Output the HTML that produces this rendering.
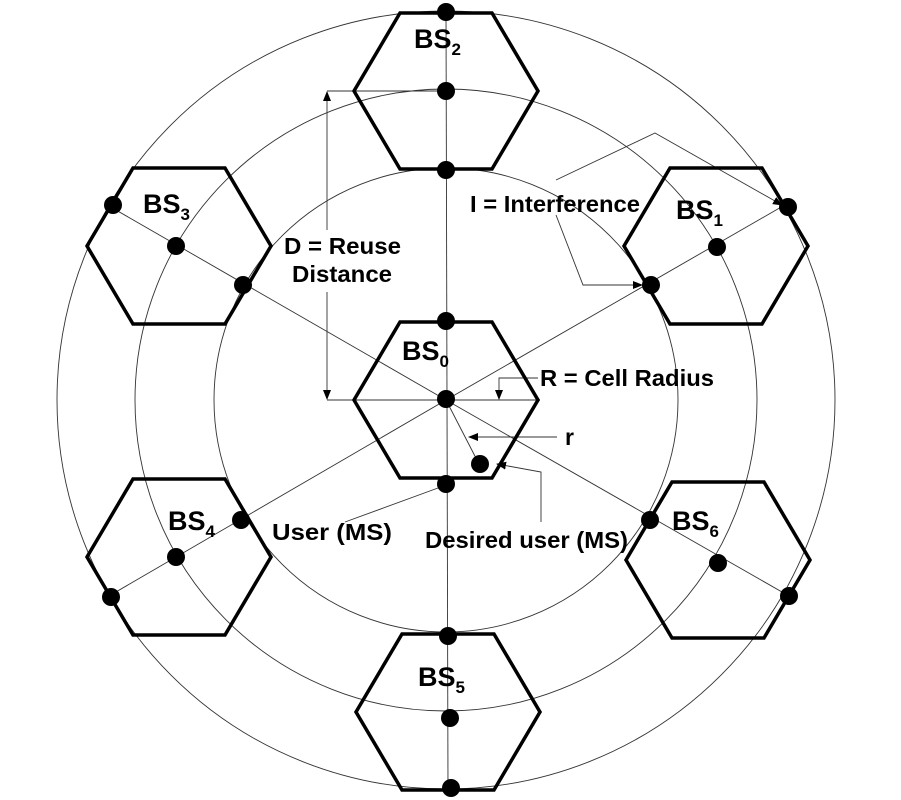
<!DOCTYPE html>
<html><head><meta charset="utf-8"><style>
html,body{margin:0;padding:0;background:#fff;}
svg{display:block;font-family:"Liberation Sans",Arial,sans-serif;font-weight:bold;}
</style></head><body>
<svg width="901" height="800" viewBox="0 0 901 800" xmlns="http://www.w3.org/2000/svg">
<defs>
<marker id="a" markerWidth="10" markerHeight="8" refX="9" refY="4" orient="auto" markerUnits="userSpaceOnUse">
<path d="M0,0 L10,4 L0,8 z" fill="#000"/></marker>
</defs>
<g fill="none" stroke="#333" stroke-width="0.9">
<circle cx="446" cy="400" r="232"/>
<circle cx="446" cy="400" r="311"/>
<circle cx="446" cy="400" r="389"/>
<line x1="446" y1="11" x2="448" y2="792"/>
<line x1="446" y1="400" x2="783" y2="206"/>
<line x1="446" y1="400" x2="109" y2="206"/>
<line x1="446" y1="400" x2="109" y2="596"/>
<line x1="446" y1="400" x2="789" y2="596"/>
<line x1="358" y1="400" x2="540" y2="400"/>
<line x1="327" y1="91" x2="446" y2="91"/>
<line x1="327" y1="400" x2="358" y2="400"/>
<line x1="327" y1="230" x2="327" y2="92" marker-end="url(#a)"/>
<line x1="327" y1="292" x2="327" y2="399" marker-end="url(#a)"/>
<polyline points="538,378 499,378 499,399" marker-end="url(#a)"/>
<line x1="557" y1="437" x2="469" y2="437" marker-end="url(#a)"/>
<line x1="446" y1="400" x2="478" y2="462"/>
<polyline points="541,522 541,472 497,464" marker-end="url(#a)"/>
<line x1="438" y1="488" x2="345" y2="522"/>
<polyline points="556,180 655,133 782,205" marker-end="url(#a)"/>
<polyline points="556,215 583,285 642,285" marker-end="url(#a)"/>
</g>
<g fill="none" stroke="#000" stroke-width="3.5">
<polygon points="400,322 492,322 538,400 492,478 400,478 354,400"/>
<polygon points="400,13 492,13 538,91 492,169 400,169 354,91"/>
<polygon points="402,634 494,634 540,712 494,790 402,790 356,712"/>
<polygon points="133,168 225,168 271,246 225,324 133,324 87,246"/>
<polygon points="670,168 762,168 808,246 762,324 670,324 624,246"/>
<polygon points="133,479 225,479 271,557 225,635 133,635 87,557"/>
<polygon points="672,482 764,482 810,560 764,638 672,638 626,560"/>
</g>
<g fill="#000">
<circle cx="446" cy="399" r="9"/><circle cx="446" cy="321" r="9"/><circle cx="446" cy="484" r="9"/>
<circle cx="480" cy="464" r="9"/>
<circle cx="446" cy="12" r="9"/><circle cx="446" cy="91" r="9"/><circle cx="446" cy="170" r="9"/>
<circle cx="448" cy="636" r="9"/><circle cx="450" cy="718" r="9"/><circle cx="451" cy="788" r="9"/>
<circle cx="113" cy="205" r="9"/><circle cx="176" cy="246" r="9"/><circle cx="243" cy="285" r="9"/>
<circle cx="651" cy="285" r="9"/><circle cx="717" cy="247" r="9"/><circle cx="788" cy="207" r="9"/>
<circle cx="241" cy="520" r="9"/><circle cx="176" cy="557" r="9"/><circle cx="111" cy="597" r="9"/>
<circle cx="650" cy="520" r="9"/><circle cx="718" cy="563" r="9"/><circle cx="789" cy="596" r="9"/>
</g>
<g font-size="27" fill="#000">
<text x="414" y="48">BS<tspan font-size="17" dy="7">2</tspan></text>
<text x="143" y="213">BS<tspan font-size="17" dy="7">3</tspan></text>
<text x="676" y="219">BS<tspan font-size="17" dy="7">1</tspan></text>
<text x="402" y="360">BS<tspan font-size="17" dy="7">0</tspan></text>
<text x="168" y="530">BS<tspan font-size="17" dy="7">4</tspan></text>
<text x="672" y="530">BS<tspan font-size="17" dy="7">6</tspan></text>
<text x="418" y="686">BS<tspan font-size="17" dy="7">5</tspan></text>
</g>
<g font-size="23" fill="#000">
<text x="470" y="212" textLength="170" lengthAdjust="spacingAndGlyphs">I = Interference</text>
<text x="284" y="254" textLength="117" lengthAdjust="spacingAndGlyphs">D = Reuse</text>
<text x="292" y="282" textLength="100" lengthAdjust="spacingAndGlyphs">Distance</text>
<text x="540" y="386" textLength="174" lengthAdjust="spacingAndGlyphs">R = Cell Radius</text>
<text x="565" y="445">r</text>
<text x="272" y="540" textLength="120" lengthAdjust="spacingAndGlyphs">User (MS)</text>
<text x="425" y="548" textLength="203" lengthAdjust="spacingAndGlyphs">Desired user (MS)</text>
</g>
</svg>
</body></html>
